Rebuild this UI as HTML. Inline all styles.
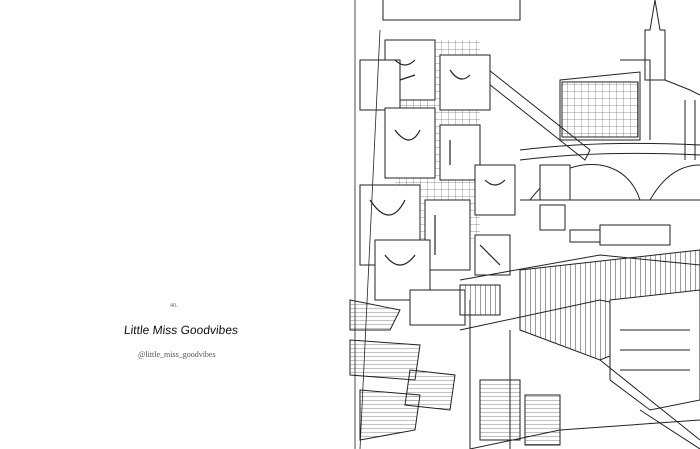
<!DOCTYPE html>
<html><head><meta charset="utf-8"><style>
html,body{margin:0;padding:0;background:#fff;}
body{width:700px;height:449px;position:relative;overflow:hidden;font-family:"Liberation Serif",serif;}
.n{position:absolute;left:170px;top:303px;font-size:6px;color:#666;}
.t{position:absolute;left:124px;top:323px;font-family:"Liberation Sans",sans-serif;font-size:12px;color:#111;transform:skewX(-6deg);}
.h{position:absolute;left:138px;top:350px;font-size:8px;color:#555;}
svg{position:absolute;left:0;top:0;}
</style></head><body>
<div class="n">40.</div>
<div class="t">Little Miss Goodvibes</div>
<div class="h">@little_miss_goodvibes</div>
<svg width="700" height="449" viewBox="0 0 700 449" fill="none" stroke="#222" stroke-width="1">
<defs>
<pattern id="sp" width="5" height="8" patternUnits="userSpaceOnUse"><path d="M0 0v8" stroke="#222" stroke-width="0.9"/></pattern>
<pattern id="gr" width="7" height="7" patternUnits="userSpaceOnUse"><path d="M0 0v7M0 0h7" stroke="#333" stroke-width="0.5"/></pattern>
<pattern id="hz" width="8" height="4" patternUnits="userSpaceOnUse"><path d="M0 0h8" stroke="#333" stroke-width="0.6"/></pattern>
</defs>
<!-- castle -->
<path d="M655 0 L650 30 L645 30 L645 80 L665 80 L665 30 L660 30 Z"/>
<path d="M560 80 L640 72 L640 140 L560 140 Z"/>
<rect x="562" y="82" width="76" height="55" fill="url(#gr)"/>
<path d="M620 60 L650 60 L650 140"/>
<path d="M665 80 L690 90 L700 95"/>
<path d="M685 100v60M695 100v60"/>
<!-- bridge -->
<path d="M520 150 Q600 140 700 145 M520 160 Q600 150 700 155"/>
<path d="M530 200 Q560 160 600 165 Q630 170 640 200 M650 200 Q670 165 700 165"/>
<path d="M520 200 L700 200"/>
<!-- awning -->
<path d="M470 55 L590 150 L585 160 L465 65 Z"/>
<path d="M383 0 L383 20 L520 20 L520 0"/>
<!-- grid behind cards -->
<rect x="395" y="40" width="85" height="200" fill="url(#gr)" stroke="none"/>
<!-- hanging cards -->
<g stroke-width="1" fill="#fff">
<rect x="385" y="40" width="50" height="60"/>
<rect x="360" y="60" width="40" height="50"/>
<rect x="440" y="55" width="50" height="55"/>
<rect x="385" y="108" width="50" height="70"/>
<rect x="440" y="125" width="40" height="55"/>
<rect x="475" y="165" width="40" height="50"/>
<rect x="360" y="185" width="60" height="80"/>
<rect x="425" y="200" width="45" height="70"/>
<rect x="375" y="240" width="55" height="60"/>
<rect x="475" y="235" width="35" height="40"/>
<rect x="540" y="165" width="30" height="35"/>
<rect x="540" y="205" width="25" height="25"/>
<rect x="410" y="290" width="55" height="35"/>
</g>
<g stroke-width="1.2">
<path d="M395 60 q10 10 20 0 M400 80 l15 -5 M450 70 q10 15 20 5 M395 130 q15 20 25 0 M450 140 v25 M370 200 q20 30 35 0 M435 215 v40 M385 255 q15 20 30 0 M485 180 q10 10 20 0 M480 245 l20 20"/>
</g>
<path d="M355 0 L355 449 M380 30 L360 449" stroke-width="0.8"/>
<!-- left stacks -->
<path d="M350 300 L400 310 L390 330 L350 330 Z" fill="url(#hz)"/>
<path d="M350 340 L420 345 L415 380 L350 375 Z" fill="url(#hz)"/>
<path d="M360 390 L420 395 L415 430 L360 440 Z" fill="url(#hz)"/>
<path d="M410 370 L455 375 L450 410 L405 405 Z" fill="url(#hz)"/>
<!-- tables -->
<path d="M460 280 L600 255 L700 265 M460 330 L600 300 L700 320"/>
<path d="M470 300 L470 449 M510 330 L510 449"/>
<path d="M520 270 L700 250 L700 320 L600 360 L520 330 Z" fill="url(#sp)"/>
<rect x="600" y="225" width="70" height="20"/>
<rect x="570" y="230" width="30" height="12"/>
<path d="M610 300 L700 290 L700 400 L650 410 L610 380 Z" fill="#fff"/>
<path d="M620 330h70M620 350h70M620 370h70"/>
<path d="M600 360 L700 440 M640 410 L700 449"/>
<rect x="480" y="380" width="40" height="60" fill="url(#hz)"/>
<rect x="525" y="395" width="35" height="50" fill="url(#hz)"/>
<path d="M470 449 L560 430 L700 420"/>
<rect x="460" y="285" width="40" height="30" fill="url(#sp)"/>
</svg>
</body></html>
